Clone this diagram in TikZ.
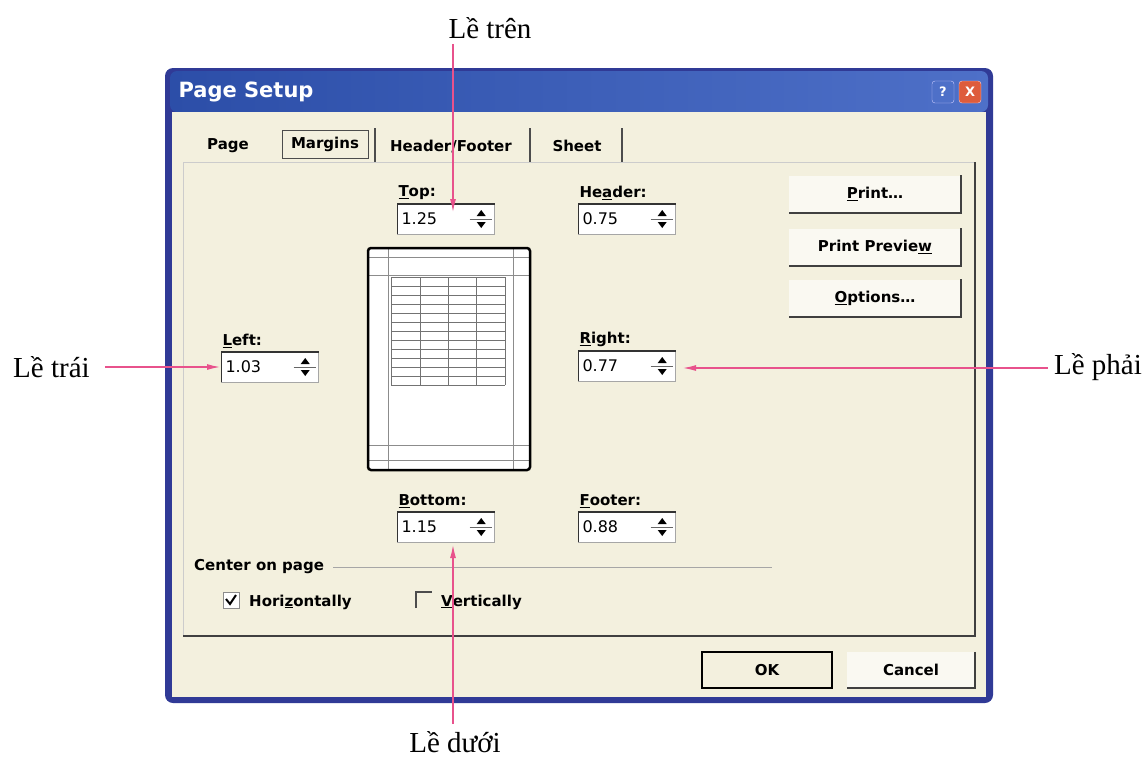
\documentclass[tikz,border=0pt]{standalone}
\usepackage{fontspec}
\setmainfont{Liberation Serif}
\newfontfamily\dlgfont{DejaVu Sans}
\usetikzlibrary{arrows.meta}
\definecolor{titleblue}{RGB}{44,78,168}
\definecolor{titlelight}{RGB}{78,112,200}
\definecolor{framblue}{RGB}{48,58,150}
\definecolor{dlgbg}{RGB}{243,240,222}
\definecolor{marrowc}{RGB}{232,82,140}
\definecolor{closered}{RGB}{222,92,60}
\tikzstyle{dlgtext}=[font=\dlgfont\bfseries\fontsize{15}{17}\selectfont, inner sep=1pt]
\tikzstyle{fieldlabel}=[dlgtext, anchor=south west]
\tikzstyle{spinbox}=[rectangle, fill=white, draw=black!35, minimum width=97pt, minimum height=30pt,
  text width=89pt, align=left, inner sep=2pt, font=\dlgfont\fontsize{16}{18}\selectfont]
\tikzstyle{button}=[dlgtext, rectangle, fill=dlgbg!40!white, minimum width=172pt, minimum height=37pt]
\tikzstyle{raised}=[draw=black!75, line width=1.6pt]
\tikzstyle{marrow}=[draw=marrowc, line width=1.2pt, -{Latex[length=13pt,width=6pt]}]
\tikzstyle{viet}=[font=\fontsize{29}{32}\selectfont, inner sep=1pt]
\tikzstyle{checkbox}=[rectangle, minimum size=16pt, inner sep=0pt]

\begin{document}
\begin{tikzpicture}[x=1pt, y=-1pt]
\useasboundingbox (0,0) rectangle (1145,758);

% the dialog window
\fill[framblue, rounded corners=8pt] (165,68) rectangle (993,703);
\shade[left color=titleblue, right color=titlelight, rounded corners=7pt] (170,71) rectangle (988,112);
\fill[dlgbg] (172,112) rectangle (986,697);
\node[font=\dlgfont\bfseries\fontsize{21}{23}\selectfont, text=white, anchor=west] (title) at (175,92) {Page Setup};
\node[draw=white!80!blue, fill=titlelight, rounded corners=3pt, minimum size=22pt, inner sep=0pt,
  text=white, font=\dlgfont\bfseries\fontsize{13}{15}\selectfont] (helpbtn) at (943,92) {?};
\node[draw=white!80!red, fill=closered, rounded corners=3pt, minimum size=22pt, inner sep=0pt,
  text=white, font=\dlgfont\bfseries\fontsize{13}{15}\selectfont] (closebtn) at (970,92) {X};

% tabs
\node[dlgtext] (pagetab) at (228,146) {Page};
\node[dlgtext, draw=black!70, minimum width=86pt, minimum height=28pt] (margtab) at (325,144) {Margins};
\node[dlgtext] (hftab) at (451,146) {Header/Footer};
\node[dlgtext] (sheettab) at (577,146) {Sheet};
\foreach \x in {375,530,622}
  \draw[black!70, line width=1.2pt] (\x,128) -- (\x,162);

% tab panel
\draw[black!20] (183,636) -- (183,162) -- (975,162);
\draw[black!75, line width=1.5pt] (975,162) -- (975,636) -- (183,636);

% margin fields
\foreach \pos/\name/\val in {{(446,219)/topbox/1.25}, {(627,219)/headerbox/0.75}, {(270,367)/leftbox/1.03},
                             {(627,366)/rightbox/0.77}, {(446,527)/bottombox/1.15}, {(627,527)/footerbox/0.88}}
{
  \node[spinbox] (\name) at \pos {\val};
  \draw[black!80, line width=1.5pt] (\name.south west) -- (\name.north west) -- (\name.north east);
  \draw[black!60] ([xshift=-25pt]\name.east) -- ([xshift=-3pt]\name.east);
  \fill ([xshift=-18pt,yshift=3pt]\name.east) -- ([xshift=-9pt,yshift=3pt]\name.east) -- ([xshift=-13.5pt,yshift=9pt]\name.east) -- cycle;
  \fill ([xshift=-18pt,yshift=-3pt]\name.east) -- ([xshift=-9pt,yshift=-3pt]\name.east) -- ([xshift=-13.5pt,yshift=-9pt]\name.east) -- cycle;
}
\node[fieldlabel] (toplbl) at ([yshift=3pt]topbox.north west) {\underline{T}op:};
\node[fieldlabel] (headerlbl) at ([yshift=3pt]headerbox.north west) {He\underline{a}der:};
\node[fieldlabel] (leftlbl) at ([yshift=3pt]leftbox.north west) {\underline{L}eft:};
\node[fieldlabel] (rightlbl) at ([yshift=3pt]rightbox.north west) {\underline{R}ight:};
\node[fieldlabel] (bottomlbl) at ([yshift=3pt]bottombox.north west) {\underline{B}ottom:};
\node[fieldlabel] (footerlbl) at ([yshift=3pt]footerbox.north west) {\underline{F}ooter:};

% page preview
\fill[white] (368,248) rectangle (530,470);
\foreach \x in {388,513}
  \draw[black!45] (\x,248) -- (\x,470);
\foreach \y in {257,275,445,460}
  \draw[black!45] (368,\y) -- (530,\y);
\foreach \x in {391,420,448,476,505}
  \draw[black!55] (\x,277) -- (\x,385);
\foreach \y in {277,286,295,304,313,322,331,340,349,358,367,376,385}
  \draw[black!55] (391,\y) -- (505,\y);
\draw[black, line width=2.5pt, rounded corners=3pt] (368,248) rectangle (530,470);

% buttons on the right
\foreach \pos/\name/\txt in {{(875,194)/printbtn/{\underline{P}rint\ldots}}, {(875,247)/previewbtn/{Print Previe\underline{w}}},
                             {(875,298)/optionsbtn/{\underline{O}ptions\ldots}}}
{
  \node[button] (\name) at \pos {\txt};
  \draw[raised] (\name.north east) -- (\name.south east) -- (\name.south west);
}

% center on page
\node[dlgtext, anchor=west] (centerlbl) at (193,567) {Center on page};
\draw[black!35, line width=1pt] ([xshift=8pt]centerlbl.east) -- (772,567);
\node[checkbox, fill=white, draw=black!45] (hcheck) at (231,600) {};
\draw[black, line width=2pt] ([xshift=-5pt,yshift=1pt]hcheck.center) -- ([xshift=-1pt,yshift=-4pt]hcheck.center) -- ([xshift=5pt,yshift=5pt]hcheck.center);
\node[dlgtext, anchor=west] (hlbl) at (248,602) {Hori\underline{z}ontally};
\node[checkbox] (vcheck) at (424,600) {};
\draw[black!70, line width=1.5pt] (vcheck.south west) -- (vcheck.north west) -- (vcheck.north east);
\node[dlgtext, anchor=west] (vlbl) at (440,602) {\underline{V}ertically};

% OK / Cancel
\node[dlgtext, draw=black, line width=2.2pt, minimum width=130pt, minimum height=36pt] (okbtn) at (767,670) {OK};
\node[button, minimum width=128pt, minimum height=36pt] (cancelbtn) at (911,670) {Cancel};
\draw[raised] (cancelbtn.north east) -- (cancelbtn.south east) -- (cancelbtn.south west);

% the Vietnamese labels and their arrows
\node[viet] (letren) at (490,28) {Lề trên};
\node[viet] (leduoi) at (455,742) {Lề dưới};
\node[viet, anchor=west] (letrai) at (12,367) {Lề trái};
\node[viet, anchor=east] (lephai) at (1143,367) {Lề phải};
\coordinate (toptip) at (453,212);
\coordinate (bottip) at (453,545);
\coordinate (lefttip) at (220,367);
\coordinate (righttip) at (683,368);
\path[marrow] ([yshift=-4pt]letren.south -| toptip) -- (toptip);
\path[marrow] ([yshift=6pt]leduoi.north -| bottip) -- (bottip);
\path[marrow, shorten <=14pt] (letrai.east |- lefttip) -- (lefttip);
\path[marrow, shorten <=5pt] (lephai.west |- righttip) -- (righttip);
\end{tikzpicture}
\end{document}
